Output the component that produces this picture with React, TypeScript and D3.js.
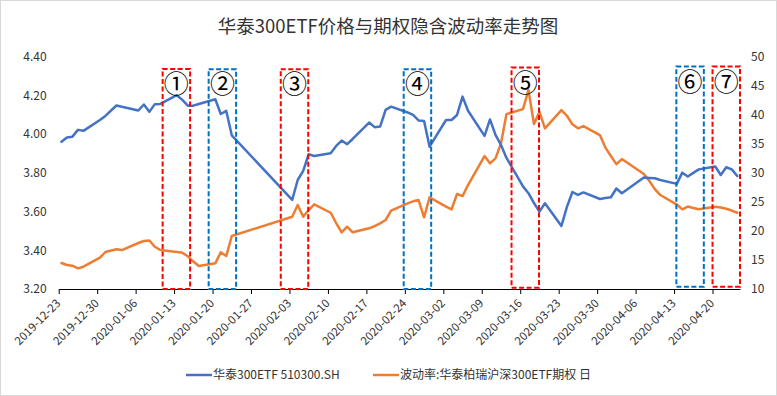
import { useCallback } from "react";
import * as d3 from "d3";

// trading days (UTC)
const dates = [
  "2019-12-23", "2019-12-24", "2019-12-25", "2019-12-26", "2019-12-27",
  "2019-12-30", "2019-12-31", "2020-01-02", "2020-01-03",
  "2020-01-06", "2020-01-07", "2020-01-08", "2020-01-09", "2020-01-10",
  "2020-01-13", "2020-01-14", "2020-01-15", "2020-01-16", "2020-01-17",
  "2020-01-20", "2020-01-21", "2020-01-22", "2020-01-23",
  "2020-02-03", "2020-02-04", "2020-02-05", "2020-02-06", "2020-02-07",
  "2020-02-10", "2020-02-11", "2020-02-12", "2020-02-13", "2020-02-14",
  "2020-02-17", "2020-02-18", "2020-02-19", "2020-02-20", "2020-02-21",
  "2020-02-24", "2020-02-25", "2020-02-26", "2020-02-27", "2020-02-28",
  "2020-03-02", "2020-03-03", "2020-03-04", "2020-03-05", "2020-03-06",
  "2020-03-09", "2020-03-10", "2020-03-11", "2020-03-12", "2020-03-13",
  "2020-03-16", "2020-03-17", "2020-03-18", "2020-03-19", "2020-03-20",
  "2020-03-23", "2020-03-24", "2020-03-25", "2020-03-26", "2020-03-27",
  "2020-03-30", "2020-03-31", "2020-04-01", "2020-04-02", "2020-04-03",
  "2020-04-07", "2020-04-08", "2020-04-09", "2020-04-10",
  "2020-04-13", "2020-04-14", "2020-04-15", "2020-04-16", "2020-04-17",
  "2020-04-20", "2020-04-21", "2020-04-22", "2020-04-23", "2020-04-24",
];

const etfPrice = [
  3.961, 3.983, 3.987, 4.022, 4.017,
  4.073, 4.094, 4.148, 4.141,
  4.122, 4.153, 4.115, 4.155, 4.156,
  4.201, 4.177, 4.147, 4.147, 4.156,
  4.180, 4.104, 4.120, 3.994,
  3.660, 3.763, 3.810, 3.896, 3.887,
  3.901, 3.939, 3.967, 3.948, 3.975,
  4.060, 4.036, 4.039, 4.125, 4.142,
  4.112, 4.099, 4.071, 4.068, 3.935,
  4.073, 4.073, 4.099, 4.194, 4.121,
  3.991, 4.076, 3.996, 3.944, 3.877,
  3.730, 3.695, 3.644, 3.600, 3.643,
  3.526, 3.624, 3.701, 3.686, 3.699,
  3.665, 3.670, 3.674, 3.719, 3.695,
  3.776, 3.774, 3.772, 3.763,
  3.743, 3.801, 3.781, 3.800, 3.818,
  3.833, 3.789, 3.829, 3.818, 3.784,
];

const impliedVol = [
  14.47, 14.13, 14.01, 13.56, 13.84,
  15.39, 16.37, 16.83, 16.71,
  17.92, 18.26, 18.35, 17.28, 16.71,
  16.37, 16.23, 15.63, 14.73, 13.96,
  14.42, 16.32, 15.68, 19.12,
  22.44, 24.46, 22.44, 23.6, 24.58,
  23.13, 21.36, 19.76, 20.72, 19.76,
  20.45, 20.84, 21.31, 21.88, 23.48,
  24.75, 25.1, 25.32, 22.34, 25.78,
  24.2, 23.72, 26.35, 26.0, 27.9,
  32.89, 31.64, 32.5, 35.08, 40.12,
  40.98, 44.25, 38.4, 40.5, 37.66,
  40.8, 39.83, 38.35, 37.66, 38.06,
  36.5, 34.35, 32.9, 31.5, 32.37,
  29.8, 28.6, 27.2, 26.18,
  24.54, 23.72, 24.2, 23.94, 23.72,
  24.17, 24.03, 23.82, 23.51, 23.13,
];

const priceTicks = [3.2, 3.4, 3.6, 3.8, 4.0, 4.2, 4.4];
const volTicks = [10, 15, 20, 25, 30, 35, 40, 45, 50];

// annotation boxes
const boxLabels = ["①", "②", "③", "④", "⑤", "⑥", "⑦"];
const boxStart = [
  "2020-01-10T22:00Z", "2020-01-19T07:00Z", "2020-02-01T10:00Z", "2020-02-23T19:00Z",
  "2020-03-14T10:00Z", "2020-04-13T10:00Z", "2020-04-20T00:00Z",
];
const boxColors = ["#FF0000", "#0070C0", "#FF0000", "#0070C0", "#FF0000", "#0070C0", "#FF0000"];
const boxTop = [4.337, 4.335, 4.335, 4.335, 4.344, 4.349, 4.349];
const boxBottom = [3.2, 3.2, 3.2, 3.2, 3.207, 3.212, 3.212];

const title = "华泰300ETF价格与期权隐含波动率走势图";
const seriesNames = ["华泰300ETF 510300.SH", "波动率:华泰柏瑞沪深300ETF期权 日"];
const seriesColors = ["#4472C4", "#ED7D31"];

const width = 777;
const height = 396;
const font = "'Noto Sans CJK SC', 'Noto Sans', sans-serif";

const App = () => {
  const draw = useCallback((node: HTMLDivElement | null) => {
    if (node == null) return;
    d3.select(node).selectAll("*").remove();

    const svg = d3.select(node).append("svg")
      .attr("width", width)
      .attr("height", height)
      .attr("viewBox", [0, 0, width, height])
      .style("position", "absolute")
      .style("left", 0)
      .style("top", 0)
      .style("font-family", font);

    const marginLeft = 58.7;
    const marginRight = 37;
    const marginTop = 56.7;
    const marginBottom = 107;

    const parse = d3.utcParse("%Y-%m-%d");
    const X = dates.map((d) => d3.utcHour.offset(parse(d)!, 12));
    const start = parse("2019-12-23")!;
    const end = parse("2020-04-25")!;

    const xScale = d3.scaleUtc([start, end], [marginLeft, width - marginRight]);
    const yLeft = d3.scaleLinear([3.2, 4.4], [height - marginBottom, marginTop]);
    const yRight = d3.scaleLinear([10, 50], [height - marginBottom, marginTop]);

    // border
    svg.append("rect")
      .attr("x", 0.5).attr("y", 0.5)
      .attr("width", width - 1).attr("height", height - 1)
      .attr("fill", "#fff")
      .attr("stroke", "#D9D9D9");

    svg.append("text")
      .attr("x", 388)
      .attr("y", 33)
      .attr("text-anchor", "middle")
      .attr("font-size", 18.5)
      .attr("fill", "#333")
      .text(title);

    // x axis
    const xAxis = d3.axisBottom(xScale)
      .tickValues(d3.utcMonday.range(start, parse("2020-04-21")!))
      .tickFormat(d3.utcFormat("%Y-%m-%d") as any)
      .tickSize(5)
      .tickSizeOuter(0);

    svg.append("g")
      .attr("transform", `translate(0,${height - marginBottom})`)
      .call(xAxis)
      .call((g) => g.select(".domain").attr("stroke", "#000"))
      .call((g) => g.selectAll(".tick line").attr("stroke", "#000"))
      .call((g) => g.selectAll(".tick text")
        .attr("font-family", font)
        .attr("font-size", 11.5)
        .attr("fill", "#333")
        .attr("text-anchor", "end")
        .attr("dy", null)
        .attr("y", 0)
        .attr("transform", "translate(2,15) rotate(-45)"));

    const leftAxis = d3.axisLeft(yLeft)
      .tickValues(priceTicks)
      .tickFormat(d3.format(".2f"))
      .tickSize(0)
      .tickPadding(12);
    svg.append("g")
      .attr("transform", `translate(${marginLeft},0)`)
      .call(leftAxis)
      .call((g) => g.select(".domain").remove())
      .call((g) => g.selectAll(".tick text")
        .attr("font-family", font)
        .attr("font-size", 12)
        .attr("fill", "#333"));

    const rightAxis = d3.axisRight(yRight)
      .tickValues(volTicks)
      .tickFormat(d3.format("d"))
      .tickSize(0)
      .tickPadding(11);
    svg.append("g")
      .attr("transform", `translate(${width - marginRight},0)`)
      .call(rightAxis)
      .call((g) => g.select(".domain").remove())
      .call((g) => g.selectAll(".tick text")
        .attr("font-family", font)
        .attr("font-size", 12)
        .attr("fill", "#333"));

    const I = d3.range(X.length);

    const priceLine = d3.line<number>()
      .x((i) => xScale(X[i]))
      .y((i) => yLeft(etfPrice[i]));
    const volLine = d3.line<number>()
      .x((i) => xScale(X[i]))
      .y((i) => yRight(impliedVol[i]));

    svg.append("path")
      .attr("fill", "none")
      .attr("stroke", seriesColors[1])
      .attr("stroke-width", 2.5)
      .attr("stroke-linejoin", "round")
      .attr("stroke-linecap", "round")
      .attr("d", volLine(I));

    svg.append("path")
      .attr("fill", "none")
      .attr("stroke", seriesColors[0])
      .attr("stroke-width", 2.5)
      .attr("stroke-linejoin", "round")
      .attr("stroke-linecap", "round")
      .attr("d", priceLine(I));

    // boxes
    const boxes = svg.append("g")
      .selectAll("g")
      .data(d3.range(boxLabels.length))
      .join("g");

    boxes.append("rect")
      .attr("x", (i) => xScale(new Date(boxStart[i])))
      .attr("y", (i) => yLeft(boxTop[i]))
      .attr("width", (i) => {
        const s = new Date(boxStart[i]);
        return xScale(d3.utcDay.offset(s, 5)) - xScale(s);
      })
      .attr("height", (i) => yLeft(boxBottom[i]) - yLeft(boxTop[i]))
      .attr("fill", "none")
      .attr("stroke", (i) => boxColors[i])
      .attr("stroke-width", 2)
      .attr("stroke-dasharray", "5,2.5");

    boxes.append("text")
      .attr("x", (i) => {
        const s = new Date(boxStart[i]);
        return (xScale(s) + xScale(d3.utcDay.offset(s, 5))) / 2;
      })
      .attr("y", (i) => yLeft(boxTop[i]) + 13)
      .attr("text-anchor", "middle")
      .attr("dominant-baseline", "central")
      .attr("font-size", 25)
      .attr("fill", "#000")
      .text((i) => boxLabels[i]);

    // legend
    const legendY = 375;
    const legendX = [186, 373];
    const legend = svg.append("g")
      .selectAll("g")
      .data(seriesNames)
      .join("g")
      .attr("transform", (d, i) => `translate(${legendX[i]},${legendY})`);
    legend.append("line")
      .attr("x1", 0).attr("x2", 26)
      .attr("stroke", (d, i) => seriesColors[i])
      .attr("stroke-width", 2.5);
    legend.append("text")
      .attr("x", 27)
      .attr("dy", "0.35em")
      .attr("font-size", 12)
      .attr("fill", "#333")
      .text((d) => d);
  }, []);

  return <div ref={draw}></div>;
};

export default App;
